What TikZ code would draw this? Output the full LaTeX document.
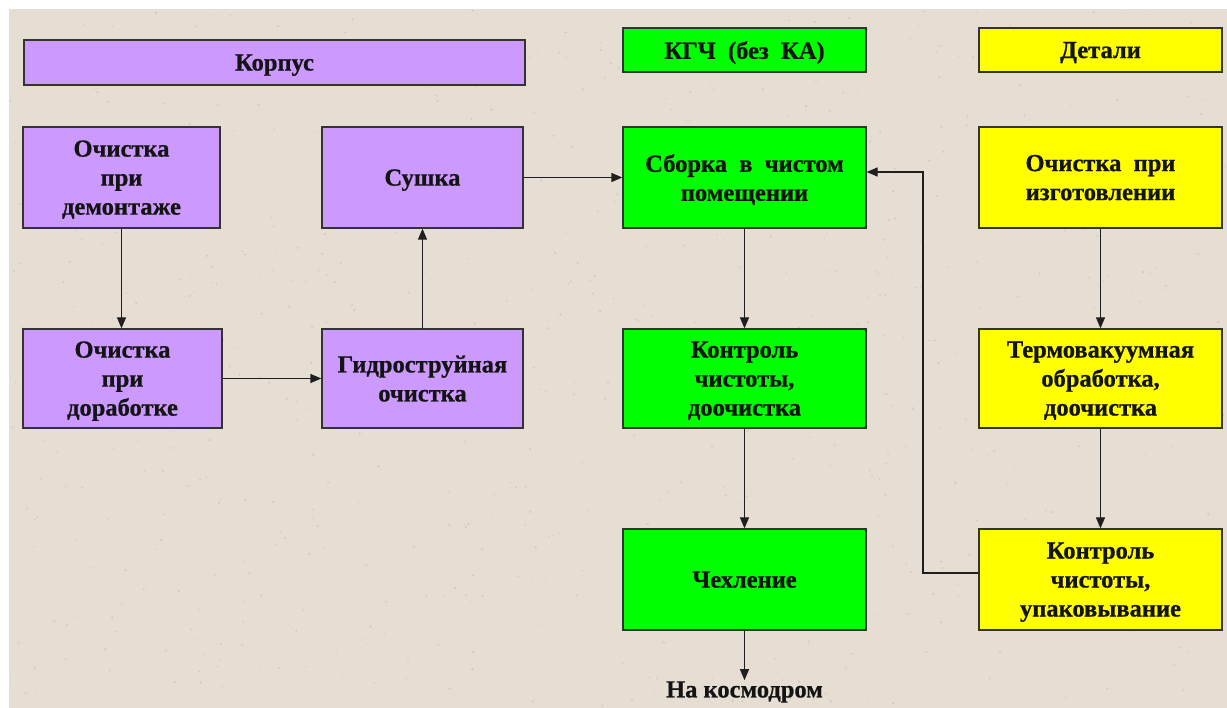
\documentclass[tikz,border=0pt]{standalone}
\usepackage{fontspec}
\setmainfont{Liberation Serif}[BoldFeatures={FakeBold=0.8}]
\usetikzlibrary{arrows.meta}

\definecolor{paper}{HTML}{E6DED3}
\definecolor{speck}{HTML}{C4B9AA}
\definecolor{lilac}{HTML}{CC99FF}
\definecolor{lime}{HTML}{00FF00}
\definecolor{lemon}{HTML}{FFFF00}
\definecolor{edgegray}{HTML}{333333}

\tikzset{
  box/.style={draw=edgegray, line width=1.3pt, align=center, inner sep=0pt,
    text depth=0pt, font=\fontsize{24.5}{29}\selectfont\bfseries, text=black!92},
  hull/.style={box, fill=lilac},
  kgch/.style={box, fill=lime},
  parts/.style={box, fill=lemon},
  wide/.style={minimum width=243pt},
  stage/.style={minimum height=101pt},
  head/.style={minimum height=44pt},
  flow/.style={line width=1.3pt, draw=black!88, -{Triangle[length=11pt,width=9pt]}},
  caption/.style={font=\fontsize{24.5}{29}\selectfont\bfseries, text=black!92, inner sep=1pt}
}

\begin{document}
\begin{tikzpicture}[x=1pt,y=-1pt]
  \useasboundingbox (0,0) rectangle (1227,708);
  % paper background with a light speckle
  \fill[white] (0,0) rectangle (1227,708);
  \fill[paper] (9,9) rectangle (1227,708);
  \pgfmathsetseed{7}
  \foreach \i in {1,...,900}{
    \pgfmathsetmacro\px{10+1215*rnd}
    \pgfmathsetmacro\py{10+696*rnd}
    \pgfmathsetmacro\pr{0.4+0.9*rnd}
    \fill[speck, opacity=0.55] (\px,\py) circle[radius=\pr pt];
  }

  % column headers
  \node[hull, minimum width=501pt, minimum height=45pt] (hdrhull) at (274.5,62.5) {Корпус};
  \node[kgch, wide, head] (hdrkgch) at (744.5,50) {КГЧ\enspace(без\enspace КА)};
  \node[parts, wide, head] (hdrparts) at (1100.5,50) {Детали};

  % hull column
  \node[hull, minimum width=197pt, stage] (dismount) at (121.5,177.5) {Очистка\\при\\демонтаже};
  \node[hull, minimum width=199pt, minimum height=99pt] (rework) at (122.5,378.5) {Очистка\\при\\доработке};
  \node[hull, minimum width=201pt, stage] (drying) at (422.5,177.5) {Сушка};
  \node[hull, minimum width=201pt, minimum height=99pt] (hydro) at (422.5,378.5) {Гидроструйная\\очистка};

  % head section column
  \node[kgch, wide, stage] (assembly) at (744.5,177.5) {Сборка\enspace в\enspace чистом\\помещении};
  \node[kgch, wide, minimum height=99pt] (check) at (744.5,378.5) {Контроль\\чистоты,\\доочистка};
  \node[kgch, wide, stage] (cover) at (744.5,579.5) {Чехление};
  \node[caption] (dest) at (744.5,692) {На космодром};

  % parts column
  \node[parts, wide, stage] (making) at (1100.5,177.5) {Очистка\enspace при\\изготовлении};
  \node[parts, wide, minimum height=99pt] (vacuum) at (1100.5,378.5) {Термовакуумная\\обработка,\\доочистка};
  \node[parts, wide, stage] (packing) at (1100.5,579.5) {Контроль\\чистоты,\\упаковывание};

  % connectors
  \draw[flow] (dismount.south) -- (rework.north -| dismount.south);
  \draw[flow] (rework.east) -- (hydro.west);
  \draw[flow] (hydro.north) -- (drying.south);
  \draw[flow] (drying.east) -- (assembly.west);
  \draw[flow] (assembly.south) -- (check.north);
  \draw[flow] (check.south) -- (cover.north);
  \draw[flow] (cover.south) -- (dest.north);
  \draw[flow] (making.south) -- (vacuum.north);
  \draw[flow] (vacuum.south) -- (packing.north);
  \coordinate (loop) at (923,400);
  \draw[flow] ([yshift=6.5pt]packing.west) -| (loop) |- ([yshift=5.5pt]assembly.east);
\end{tikzpicture}
\end{document}
